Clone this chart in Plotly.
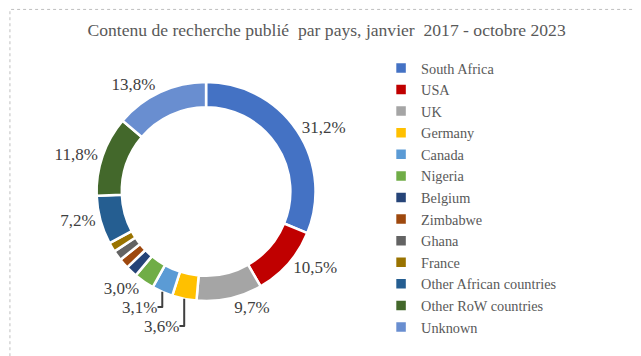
import plotly.graph_objects as go

countries = ["South Africa", "USA", "UK", "Germany", "Canada", "Nigeria", "Belgium",
             "Zimbabwe", "Ghana", "France", "Other African countries",
             "Other RoW countries", "Unknown"]
shares = [31.2, 10.5, 9.7, 3.6, 3.1, 3.0, 1.7, 1.5, 1.5, 1.4, 7.2, 11.8, 13.8]
colors = ["#4472C4", "#C00000", "#A5A5A5", "#FFC000", "#5B9BD5", "#70AD47", "#264478",
          "#9E480E", "#636363", "#997300", "#255E91", "#43682B", "#698ED0"]
labelled = [True, True, True, True, True, True, False, False, False, False, True, True, True]

templates = ["%{value:.1f}%" if show else "" for show in labelled]

fig = go.Figure(go.Pie(
    labels=countries,
    values=shares,
    sort=False,
    direction="clockwise",
    rotation=0,
    hole=0.77,
    marker=dict(colors=colors, line=dict(color="white", width=2.5)),
    texttemplate=templates,
    textposition="outside",
    textfont=dict(family="Liberation Serif", size=17, color="#404040"),
    domain=dict(x=[0.072, 0.546], y=[0.177, 0.792]),
))

fig.update_layout(
    width=641, height=356,
    margin=dict(l=0, r=0, t=0, b=0, autoexpand=False),
    paper_bgcolor="white",
    separators=",.",
    title=dict(text="Contenu de recherche publié  par pays, janvier  2017 - octobre 2023",
               x=0.497, xanchor="center", y=0.94, yanchor="middle",
               font=dict(family="Liberation Serif", size=17.6, color="#595959")),
    legend=dict(x=0.582, y=0.876, xanchor="left", yanchor="top",
                font=dict(family="Liberation Serif", size=14.3, color="#595959"),
                itemwidth=30, tracegroupgap=0),
    shapes=[dict(type="rect", xref="paper", yref="paper", x0=0.003, y0=0.006, x1=0.995, y1=0.996,
                 line=dict(color="#BFBFBF", width=1, dash="dot"))],
)

fig.write_html("out.html")
